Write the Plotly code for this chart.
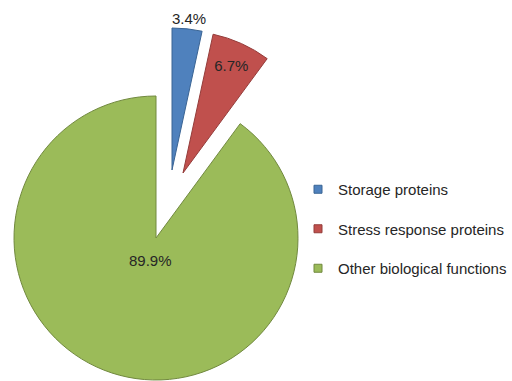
import plotly.graph_objects as go

# ---- data ----
categories = ["Storage proteins", "Stress response proteins", "Other biological functions"]
values = [3.4, 6.7, 89.9]
colors = ["#4F81BD", "#C0504D", "#9BBB59"]
edge_colors = ["#3A6494", "#943C3A", "#71893F"]
label_texts = [f"{v}%" for v in values]

W, H = 512, 381
FONT = "Liberation Sans, Arial, sans-serif"
TXT = "#262626"

# layout positions (pixels) of each slice's pie centre and radius
R = 142
centres = [(172, 170), (183, 173), (156, 238)]
# label positions (pixels) for the labels drawn as annotations
label_pos = {0: (189, 18), 2: (150, 260)}


def dom(cx, cy):
    return dict(x=[(cx - R) / W, (cx + R) / W],
                y=[(H - (cy + R)) / H, (H - (cy - R)) / H])


fig = go.Figure()

for k in range(3):
    cols = [colors[i] if i == k else "rgba(0,0,0,0)" for i in range(3)]
    lcols = [edge_colors[i] if i == k else "rgba(0,0,0,0)" for i in range(3)]
    lw = [1 if i == k else 0 for i in range(3)]
    if k == 1:
        txt = [label_texts[i] if i == k else "" for i in range(3)]
        tpos = ["inside" if i == k else "none" for i in range(3)]
    else:
        txt = ["", "", ""]
        tpos = ["none"] * 3
    fig.add_trace(go.Pie(
        labels=categories, values=values, sort=False, direction="clockwise",
        rotation=0, domain=dom(*centres[k]),
        marker=dict(colors=cols, line=dict(color=lcols, width=lw)),
        text=txt, textinfo="text", textposition=tpos,
        insidetextorientation="horizontal",
        textfont=dict(family=FONT, size=15, color=TXT),
        insidetextfont=dict(family=FONT, size=15, color=TXT),
        outsidetextfont=dict(family=FONT, size=15, color=TXT),
        showlegend=False, hoverinfo="label+percent",
    ))

# legend entries
for i, name in enumerate(categories):
    fig.add_trace(go.Scatter(
        x=[None], y=[None], mode="markers", name=name,
        legendgroup=f"g{i}",
        marker=dict(symbol="square", size=8, color=colors[i],
                    line=dict(color=edge_colors[i], width=1)),
    ))

# labels of the blue and green slices
for i, (px, py) in label_pos.items():
    fig.add_annotation(
        x=px / W, y=(H - py) / H, xref="paper", yref="paper",
        xanchor="center", yanchor="middle",
        text=label_texts[i], showarrow=False,
        font=dict(family=FONT, size=15, color=TXT),
    )

fig.update_layout(
    width=W, height=H,
    margin=dict(l=0, r=0, t=0, b=0),
    paper_bgcolor="white", plot_bgcolor="white",
    xaxis=dict(visible=False), yaxis=dict(visible=False),
    showlegend=True,
    legend=dict(x=298 / W, y=(H - 173) / H, xanchor="left", yanchor="top",
                font=dict(family=FONT, size=15, color=TXT),
                tracegroupgap=17, bgcolor="rgba(0,0,0,0)",
                traceorder="grouped"),
)

fig.write_html("out.html")
